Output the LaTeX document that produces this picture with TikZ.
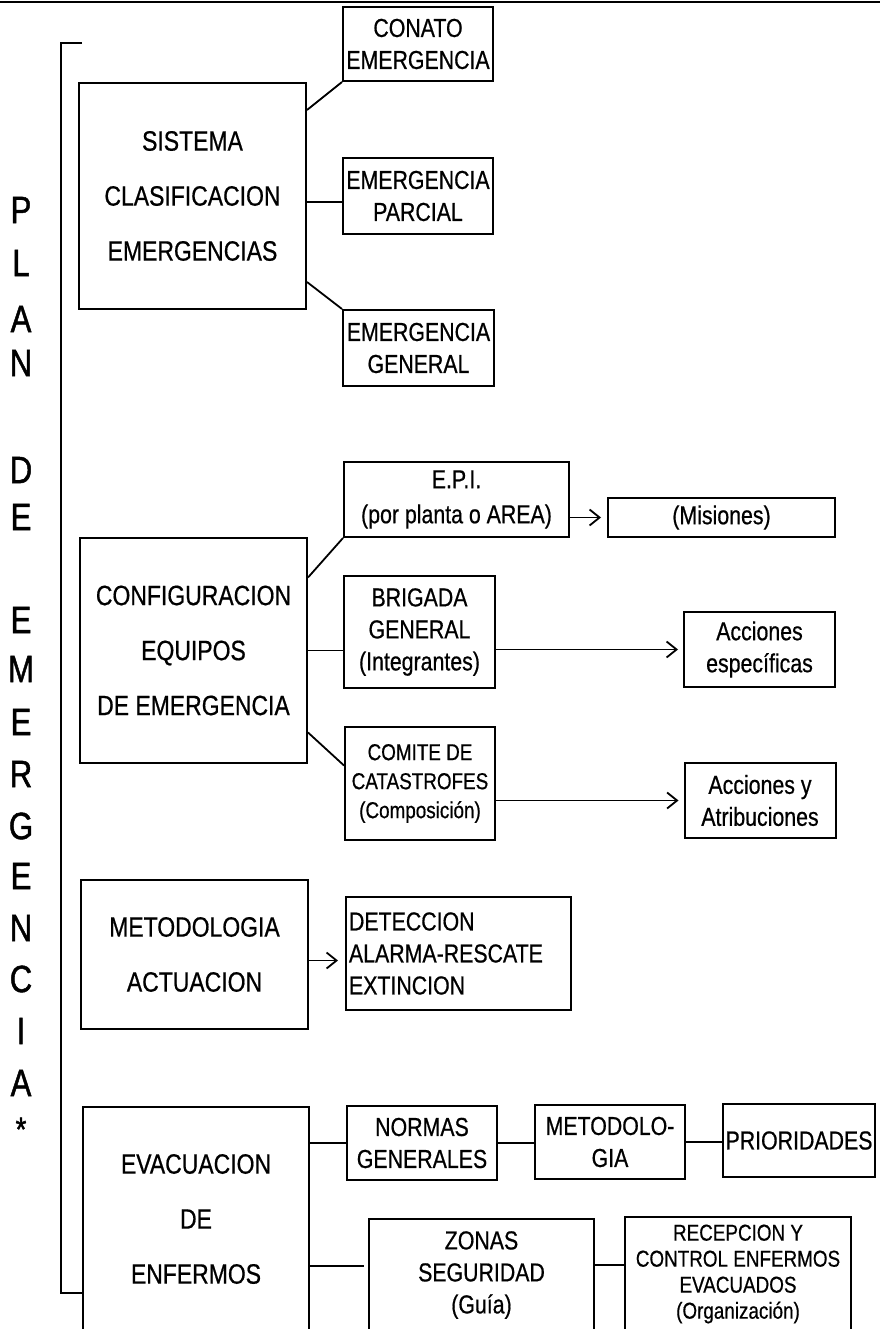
\documentclass[tikz,border=0pt]{standalone}
\usepackage{fontspec}
\setmainfont[FakeStretch=0.82,FakeBold=0.6]{Liberation Sans}
\newfontfamily\letrafont[FakeStretch=0.82,FakeBold=1.2]{Liberation Sans}
\usetikzlibrary{arrows.meta}

\begin{document}
\begin{tikzpicture}[x=1pt,y=-1pt,
    box/.style={draw,line width=2pt,inner sep=0pt,align=center},
    bigbox/.style={box,minimum width=227pt,font=\fontsize{28}{55}\selectfont},
    smallbox/.style={box,minimum width=150pt,minimum height=75pt,
        font=\fontsize{26}{32}\selectfont},
    widebox/.style={smallbox,minimum width=225pt},
    letter/.style={inner sep=0pt,font=\letrafont\fontsize{38}{38}\selectfont},
    link/.style={line width=1.8pt},
    flecha/.style={link,-{Straight Barb[length=10pt,width=16pt,line width=1.8pt]}}]

    \useasboundingbox (0,0) rectangle (880,1329);
    \clip (0,0) rectangle (880,1329);

    \draw[line width=2.5pt] (0,2) -- (880,2);

    % columna PLAN DE EMERGENCIA
    \foreach \ch/\yy [count=\i] in {P/210,L/263,A/319,N/363,D/470,E/517,
        E/620,M/669,E/722,R/774,G/826,E/876,N/928,C/979,I/1031,A/1083}
        \node[letter] (letra\i) at (21,\yy) {\ch};
    \node[letter,anchor=base,font=\letrafont\fontsize{34}{34}\selectfont] (asterisco) at (21,1141) {*};

    % bloques principales
    \node[bigbox,minimum height=226pt] (sce) at (192.5,196)
        {SISTEMA\\CLASIFICACION\\EMERGENCIAS};
    \node[bigbox,minimum height=225pt] (ceq) at (193.5,650.5)
        {CONFIGURACION\\EQUIPOS\\DE EMERGENCIA};
    \node[bigbox,minimum height=149pt] (metod) at (194.5,954.5)
        {METODOLOGIA\\ACTUACION};
    \node[bigbox,minimum width=226pt,minimum height=224pt] (evac) at (196,1219)
        {EVACUACION\\DE\\ENFERMOS};

    % clasificacion
    \node[smallbox,minimum height=74pt] (conato) at (418,44) {CONATO\\EMERGENCIA};
    \node[smallbox,minimum height=76pt] (parcial) at (418,196) {EMERGENCIA\\PARCIAL};
    \node[smallbox,minimum width=151pt,minimum height=76pt] (general) at (418.5,348)
        {EMERGENCIA\\GENERAL};

    % equipos
    \node[widebox,font=\fontsize{26}{35}\selectfont] (epi) at (456.5,499.5)
        {E.P.I.\\(por planta o AREA)};
    \node[widebox,minimum width=227pt,minimum height=39pt] (misiones) at (721.5,517.5)
        {(Misiones)};
    \node[smallbox,minimum width=151pt,minimum height=112pt] (brigada) at (419.5,632)
        {BRIGADA\\GENERAL\\(Integrantes)};
    \node[smallbox,minimum width=151pt] (accesp) at (759.5,649.5)
        {Acciones\\específicas};
    \node[smallbox,minimum height=113pt,font=\fontsize{23}{29}\selectfont] (comite) at (420,783.5)
        {COMITE DE\\CATASTROFES\\(Composición)};
    \node[smallbox,minimum width=151pt] (atrib) at (760,800.5)
        {Acciones y\\Atribuciones};

    % actuacion
    \node[box,text width=219pt,inner xsep=3pt,minimum height=113pt,align=left,
        font=\fontsize{26}{32}\selectfont] (detec) at (458.5,953.5)
        {DETECCION\\ALARMA-RESCATE\\EXTINCION};

    % evacuacion
    \node[smallbox,minimum height=74pt] (normas) at (422,1143) {NORMAS\\GENERALES};
    \node[smallbox,minimum height=74pt] (metgia) at (610,1142) {METODOLO-\\GIA};
    \node[smallbox,minimum width=152pt,minimum height=73pt] (prior) at (799,1140.5)
        {PRIORIDADES};
    \node[widebox,minimum height=112pt] (zonas) at (481.5,1275)
        {ZONAS\\SEGURIDAD\\(Guía)};
    \node[widebox,minimum width=226pt,minimum height=114pt,
        font=\fontsize{23}{26}\selectfont] (recep) at (738,1274)
        {RECEPCION Y\\CONTROL ENFERMOS\\EVACUADOS\\(Organización)};

    % llave
    \coordinate (llavesup) at (82,43);
    \coordinate (llaveinf) at (61,1293);
    \draw[line width=2pt] (llavesup) -- (61,43) -- (llaveinf) -- (llaveinf -| evac.west);

    % conexiones
    \draw[link] ([yshift=86pt]sce.east) -- (conato.south west);
    \draw[link] ([yshift=-6pt]sce.east) -- ([yshift=-6pt]parcial.west);
    \draw[link] ([yshift=-86pt]sce.east) -- (general.north west);

    \draw[link] ([yshift=73pt]ceq.east) -- (epi.south west);
    \draw[link] (ceq.east) -- (ceq.east -| brigada.west);
    \draw[link] ([yshift=-82pt]ceq.east) -- ([yshift=18pt]comite.west);
    \draw[flecha] (epi.east |- misiones.west) -- ([xshift=-6pt]misiones.west);
    \draw[flecha] (brigada.east |- accesp.west) -- ([xshift=-5pt]accesp.west);
    \draw[flecha] (comite.east |- atrib.west) -- ([xshift=-5pt]atrib.west);

    \draw[flecha] ([yshift=-6pt]metod.east) -- ([xshift=-7pt,yshift=-6pt]metod.east -| detec.west);

    \draw[link] (evac.east |- normas.west) -- (normas.west);
    \draw[link] (normas.east) -- (normas.east -| metgia.west);
    \draw[link] (metgia.east) -- (metgia.east -| prior.west);
    \coordinate (zin) at ([xshift=-4pt,yshift=9pt]zonas.west);
    \draw[link] (zin -| evac.east) -- (zin);
    \draw[link] ([yshift=10pt]zonas.east) -- ([yshift=10pt]zonas.east -| recep.west);

\end{tikzpicture}
\end{document}
